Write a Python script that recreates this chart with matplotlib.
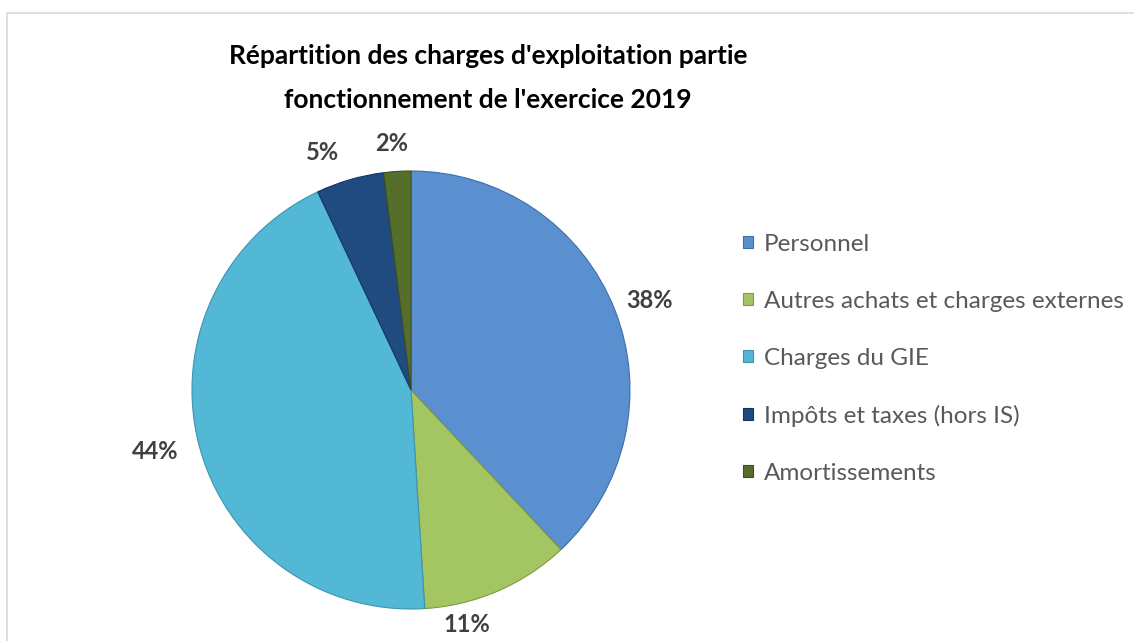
import matplotlib
matplotlib.use("Agg")
import matplotlib.pyplot as plt
from matplotlib.patches import Rectangle, Patch
import numpy as np

categories = ["Personnel", "Autres achats et charges externes", "Charges du GIE",
              "Impôts et taxes (hors IS)", "Amortissements"]
values = [38, 11, 44, 5, 2]
pct_labels = ["38%", "11%", "44%", "5%", "2%"]
colors = ["#5a8fd0", "#a3c562", "#52b8d6", "#1f4b80", "#566e2c"]
edges = ["#3f6ea8", "#7f9a44", "#3b95ae", "#143560", "#3d4f1e"]

# label placement (angle in degrees, distance in radii) - style only
label_angles = [20.6, -76.6, 193.6, 110.4, 94.4]
label_dists = [1.165, 1.10, 1.2, 1.155, 1.13]

W, H = 1134, 641
fig = plt.figure(figsize=(W / 100, H / 100), dpi=100)
plt.rcParams["font.family"] = ["Lato", "DejaVu Sans"]

# frame
fig.patches.append(Rectangle((7 / W, -0.1), 1.2, 1 - 13 / H + 0.1, transform=fig.transFigure,
                             fill=False, edgecolor="#d9d9d9", linewidth=1.2))

cx, cy, R = 411, 390, 219
scale = 1.35
ax = fig.add_axes([(cx - R * scale) / W, (H - cy - R * scale) / H, 2 * R * scale / W, 2 * R * scale / H])

wedges, texts = ax.pie(values, labels=pct_labels, colors=colors, startangle=90, counterclock=False,
                       radius=1.0, labeldistance=1.16,
                       wedgeprops=dict(linewidth=0.8),
                       textprops=dict(fontsize=17, fontweight="bold", color="#404040"))
ax.set_xlim(-scale, scale)
ax.set_ylim(-scale, scale)
ax.set_aspect("equal")
ax.axis("off")
for w, e in zip(wedges, edges):
    w.set_edgecolor(e)
for t, a, d in zip(texts, label_angles, label_dists):
    t.set_ha("center")
    t.set_va("center")
    t.set_position((d * np.cos(np.deg2rad(a)), d * np.sin(np.deg2rad(a))))

fig.text(488 / W, 1 - 56 / H, "Répartition des charges d'exploitation partie",
         ha="center", va="center", fontsize=19, fontweight="bold", color="black")
fig.text(488 / W, 1 - 100 / H, "fonctionnement de l'exercice 2019",
         ha="center", va="center", fontsize=19, fontweight="bold", color="black")

handles = [Patch(facecolor=c, edgecolor=e, linewidth=0.8) for c, e in zip(colors, edges)]
fig.legend(handles, categories, loc="center left", bbox_to_anchor=(743 / W, 1 - 359 / H),
           frameon=False, fontsize=17.5, labelcolor="#595959", handlelength=0.4, handleheight=0.4,
           handletextpad=0.45, labelspacing=1.48, borderaxespad=0, borderpad=0)

fig.savefig("out.png", dpi=100)
